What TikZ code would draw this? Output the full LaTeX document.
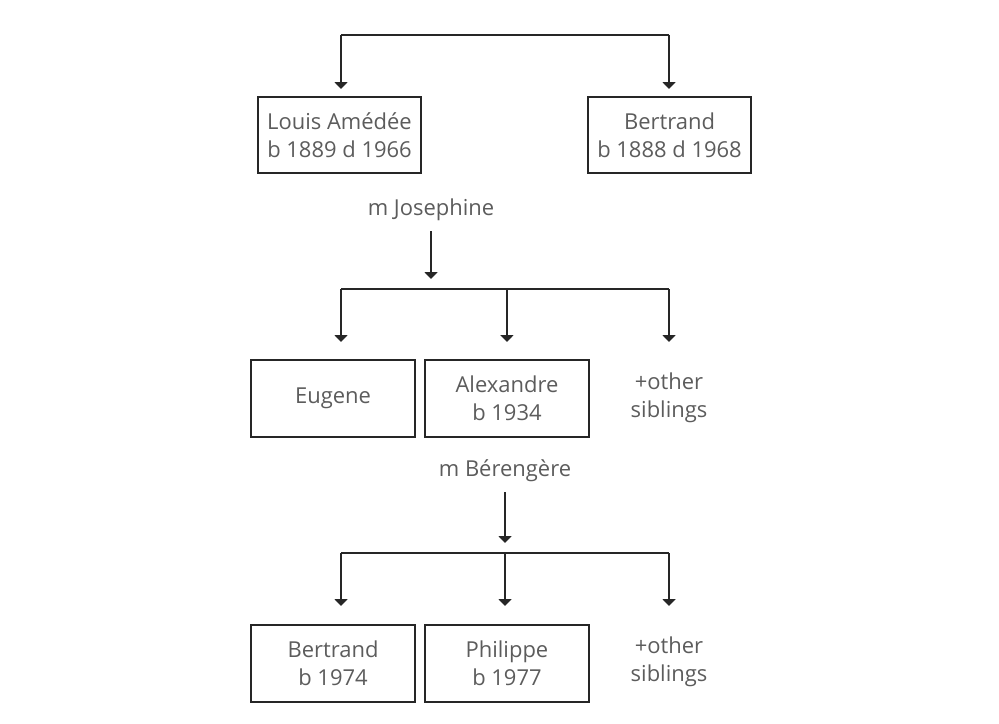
\documentclass[tikz,border=0pt]{standalone}
\usepackage{fontspec}
\setmainfont{Open Sans}
\usepackage{xcolor}
\usetikzlibrary{arrows.meta, positioning}
\definecolor{txtgray}{HTML}{5C5C5C}
\definecolor{linegray}{HTML}{262626}
\tikzset{
    myarrow/.style={-{Triangle[width=0.26cm, length=0.14cm]}, draw=linegray, line width=0.04cm},
    myline/.style={draw=linegray, line width=0.04cm},
    person/.style={draw=linegray, line width=0.04cm, rectangle, font=\fontsize{12.5}{16}\selectfont, text=txtgray, minimum width=3.28cm, minimum height=1.54cm, align=center, inner sep=0pt},
    note/.style={font=\fontsize{12.5}{16}\selectfont, text=txtgray, align=center, inner sep=0pt}
}

\begin{document}
\begin{tikzpicture}[x=0.02cm, y=-0.02cm]
    \useasboundingbox (0,0) rectangle (999,723);
    % first generation
    \node (louis) [person] at (339.5,135) {Louis Amédée\\b 1889 d 1966};
    \node (bertrandA) [person] at (669.5,135) {Bertrand\\b 1888 d 1968};
    \coordinate (topL) at (341,35);
    \coordinate (topR) at (669,35);
    \draw [myline] (topL) -- (topR);
    \draw [myarrow] (topL) -- ++(0,54);
    \draw [myarrow] (topR) -- ++(0,54);

    % second generation
    \node (josephine) [note] at (431,210) {m Josephine};
    \node (eugene) [person] at (333,398.5) {Eugene};
    \node (alexandre) [person, right=0.16cm of eugene] {Alexandre\\b 1934};
    \node (othersA) [note] at (669,398) {+other\\siblings};
    \coordinate (midA) at (431,289);
    \coordinate (midAL) at (341,289);
    \coordinate (midAR) at (669,289);
    \draw [myarrow] ([yshift=-0.2cm]josephine.south) -- ([yshift=0.2cm]midA);
    \draw [myline] (midAL) -- (midAR);
    \draw [myarrow] (midAL) -- ++(0,53);
    \draw [myarrow] (midA -| alexandre) -- ++(0,53);
    \draw [myarrow] (midAR) -- ++(0,53);

    % third generation
    \node (berengere) [note] at (505,471) {m Bérengère};
    \node (bertrandB) [person] at (333,663.5) {Bertrand\\b 1974};
    \node (philippe) [person, right=0.16cm of bertrandB] {Philippe\\b 1977};
    \node (othersB) [note] at (669,662) {+other\\siblings};
    \coordinate (midB) at (505,553);
    \coordinate (midBL) at (341,553);
    \coordinate (midBR) at (669,553);
    \draw [myarrow] ([yshift=-0.2cm]berengere.south) -- ([yshift=0.2cm]midB);
    \draw [myline] (midBL) -- (midBR);
    \draw [myarrow] (midBL) -- ++(0,53);
    \draw [myarrow] (midB) -- ++(0,53);
    \draw [myarrow] (midBR) -- ++(0,53);
\end{tikzpicture}
\end{document}
